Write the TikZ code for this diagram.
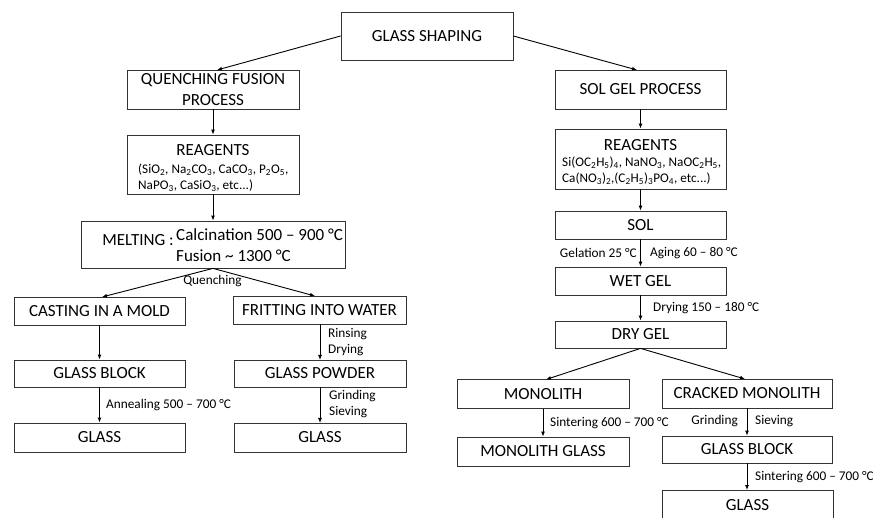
\documentclass[tikz,border=0pt]{standalone}
\usepackage{fontspec}
\setmainfont{Carlito}
\usetikzlibrary{arrows.meta}
\begin{document}
\begin{tikzpicture}[x=1pt,y=-1pt,
  box/.style={draw=black!80, line width=0.8pt, inner sep=0pt, align=center, font=\fontsize{17}{20.5}\selectfont},
  boxline/.style={draw=black!80, line width=0.8pt},
  txt/.style={inner sep=0pt, font=\fontsize{17}{20.5}\selectfont},
  sub/.style={inner sep=0pt, align=left, font=\fontsize{13.2}{16}\selectfont},
  lab/.style={inner sep=0pt, align=left, font=\fontsize{13.3}{16}\selectfont},
  arr/.style={-{Latex[length=5pt,width=4pt]}, line width=0.9pt}]
\useasboundingbox (0,0) rectangle (873,518);
\fill[white] (0,0) rectangle (873,518);

% main
\node[box, minimum width=172pt, minimum height=48pt] (gs) at (427,36) {GLASS SHAPING};

% left branch
\node[box, minimum width=172pt, minimum height=39pt] (qf) at (213,89.5) {QUENCHING FUSION\\PROCESS};
\node[box, minimum width=172pt, minimum height=59pt] (rl) at (213,164.5) {};
\node[txt] (rlt) at (213,150) {REAGENTS};
\node[sub, anchor=west] (rls) at (138,178) {(SiO\textsubscript{2}, Na\textsubscript{2}CO\textsubscript{3}, CaCO\textsubscript{3}, P\textsubscript{2}O\textsubscript{5},\\NaPO\textsubscript{3}, CaSiO\textsubscript{3}, etc...)};
\node[box, minimum width=264pt, minimum height=47pt] (melt) at (213,244.5) {};
\node[txt, anchor=east] (meltl) at (174,240) {MELTING :};
\node[txt, anchor=west] (melt1) at (176,235) {Calcination 500 – 900 °C};
\node[txt, anchor=west] (melt2) at (176,256) {Fusion \textasciitilde{} 1300 °C};

\node[box, minimum width=171pt, minimum height=28pt] (cast) at (99.5,311) {CASTING IN A MOLD};
\node[box, minimum width=173pt, minimum height=28pt] (frit) at (319.5,310) {FRITTING INTO WATER};
\node[box, minimum width=171pt, minimum height=27pt] (gb) at (99.5,373.5) {GLASS BLOCK};
\node[box, minimum width=172pt, minimum height=27pt] (gp) at (320,373.5) {GLASS POWDER};
\node[box, minimum width=171pt, minimum height=29pt] (gl) at (99.5,437.5) {GLASS};
\node[box, minimum width=172pt, minimum height=29pt] (gm) at (320,437.5) {GLASS};

% right branch
\node[box, minimum width=171pt, minimum height=39pt] (sg) at (640.5,89.5) {SOL GEL PROCESS};
\node[box, minimum width=171pt, minimum height=60pt] (rr) at (640.5,159) {};
\node[txt] (rrt) at (640.5,145) {REAGENTS};
\node[sub, anchor=west] (rrs) at (562,171) {Si(OC\textsubscript{2}H\textsubscript{5})\textsubscript{4}, NaNO\textsubscript{3}, NaOC\textsubscript{2}H\textsubscript{5},\\Ca(NO\textsubscript{3})\textsubscript{2},(C\textsubscript{2}H\textsubscript{5})\textsubscript{3}PO\textsubscript{4}, etc...)};
\node[box, minimum width=171pt, minimum height=28pt] (sol) at (640.5,225) {SOL};
\node[box, minimum width=171pt, minimum height=28pt] (wet) at (640.5,281) {WET GEL};
\node[box, minimum width=171pt, minimum height=27pt] (dry) at (640.5,334.5) {DRY GEL};
\node[box, minimum width=172pt, minimum height=29pt] (mono) at (543,394) {MONOLITH};
\node[box, minimum width=170pt, minimum height=29pt] (crack) at (747,393.5) {CRACKED MONOLITH};
\node[box, minimum width=172pt, minimum height=29pt] (mglass) at (543,451.5) {MONOLITH GLASS};
\node[box, minimum width=170pt, minimum height=27pt] (gbr) at (747,449.5) {GLASS BLOCK};
\node[txt] (glr) at (747.5,505) {GLASS};
\draw[boxline] (662,530) -- (662,490) -- (833,490) -- (833,530);
\coordinate (glrtop) at (747,490);

% connectors
\coordinate (qftop) at (217,70);
\coordinate (sgtop) at (637,70);
\draw[arr] (gs.west) -- (qftop);
\draw[arr] (gs.east) -- (sgtop);
\draw[arr] (qf.south) -- (rl.north);
\draw[arr] (rl.south) -- (melt.north);
\coordinate (casttop) at (102,297);
\coordinate (frittop) at (315,296);
\draw[arr] (melt.south) -- (casttop);
\draw[arr] (melt.south) -- (frittop);
\draw[arr] (cast.south) -- (gb.north);
\draw[arr] (gb.south) -- (gl.north);
\coordinate (fritbot) at (320,324);
\coordinate (gptop) at (320,360);
\coordinate (gpbot) at (320,387);
\coordinate (gmtop) at (320,423);
\draw[arr] (fritbot) -- (gptop);
\draw[arr] (gpbot) -- (gmtop);

\draw[arr] (sg.south) -- (rr.north);
\draw[arr] (rr.south) -- (sol.north);
\draw[arr] (sol.south) -- (wet.north);
\draw[arr] (wet.south) -- (dry.north);
\coordinate (monotop) at (546,379.5);
\coordinate (cracktop) at (745,379);
\draw[arr] (dry.south) -- (monotop);
\draw[arr] (dry.south) -- (cracktop);
\draw[arr] (mono.south) -- (mglass.north);
\draw[arr] (crack.south) -- (gbr.north);
\draw[arr] (gbr.south) -- (glrtop);

% labels
\node[lab] (lq) at (212.5,281) {Quenching};
\node[lab, anchor=west] (lrd) at (328,342) {Rinsing\\Drying};
\node[lab, anchor=west] (lan) at (106,405) {Annealing 500 – 700 °C};
\node[lab, anchor=west] (lgs) at (329,404) {Grinding\\Sieving};
\node[lab, anchor=east] (lgel) at (637,253) {Gelation 25 °C};
\node[lab, anchor=west] (lag) at (650,253) {Aging 60 – 80 °C};
\node[lab, anchor=west] (ldr) at (653,308) {Drying 150 – 180 °C};
\node[lab, anchor=west] (lsi1) at (550,423) {Sintering 600 – 700 °C};
\node[lab, anchor=east] (lgr) at (738,421) {Grinding};
\node[lab, anchor=west] (lsv) at (755,421) {Sieving};
\node[lab, anchor=west] (lsi2) at (755,477) {Sintering 600 – 700 °C};
\end{tikzpicture}
\end{document}
